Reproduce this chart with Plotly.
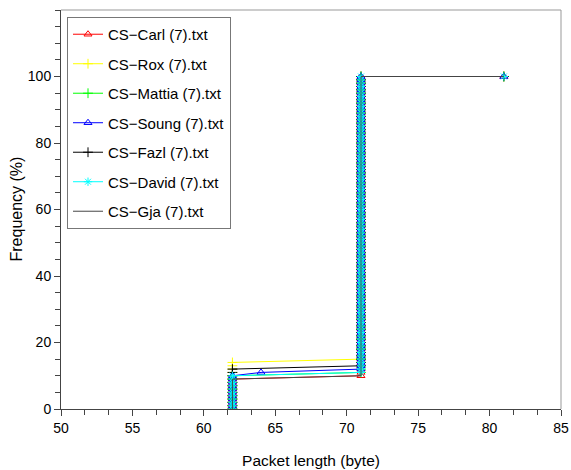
import plotly.graph_objects as go

# ---- data ----
SERIES_NAMES = ["CS\u2212Carl (7).txt", "CS\u2212Rox (7).txt", "CS\u2212Mattia (7).txt",
                "CS\u2212Soung (7).txt", "CS\u2212Fazl (7).txt", "CS\u2212David (7).txt",
                "CS\u2212Gja (7).txt"]

# cumulative frequency levels (%) at which samples are plotted
PCT_LEVELS = [0, 1, 2, 3, 4, 5, 6, 7, 8, 9, 10, 11, 12, 13, 14, 15, 16, 17, 18, 19,
              20, 21, 22, 23, 24, 25, 26, 27, 28, 29, 30, 31, 32, 33, 34, 35, 36, 37, 38, 39,
              40, 41, 42, 43, 44, 45, 46, 47, 48, 49, 50, 51, 52, 53, 54, 55, 56, 57, 58, 59,
              60, 61, 62, 63, 64, 65, 66, 67, 68, 69, 70, 71, 72, 73, 74, 75, 76, 77, 78, 79,
              80, 81, 82, 83, 84, 85, 86, 87, 88, 89, 90, 91, 92, 93, 94, 95, 96, 97, 98, 99, 100]

# (packet length in bytes, lowest %, highest %) for each series
CARL_STEPS = [(62, 0, 9), (71, 10, 100), (81, 100, 100)]
ROX_STEPS = [(62, 0, 14), (71, 15, 100), (81, 100, 100)]
MATTIA_STEPS = [(62, 0, 10), (71, 11, 100), (81, 100, 100)]
SOUNG_STEPS = [(62, 0, 10), (64, 11, 11), (71, 12, 100), (81, 100, 100)]
FAZL_STEPS = [(62, 0, 12), (71, 13, 100), (81, 100, 100)]
DAVID_STEPS = [(62, 0, 10), (71, 11, 100), (81, 100, 100)]
GJA_STEPS = [(62, 0, 9), (71, 10, 100), (81, 100, 100)]

ALL_STEPS = [CARL_STEPS, ROX_STEPS, MATTIA_STEPS, SOUNG_STEPS, FAZL_STEPS, DAVID_STEPS, GJA_STEPS]

X_TICKS = [50, 55, 60, 65, 70, 75, 80, 85]
Y_TICKS = [0, 20, 40, 60, 80, 100]

# ---- styles ----
COLORS = ["#ff0000", "#ffff00", "#00ff00", "#0000ff", "#000000", "#00ffff", "#444444"]
SYMBOLS = ["triangle-up-open", "cross-thin-open", "cross-thin-open", "triangle-up-open",
           "cross-thin-open", "asterisk-open", None]
SIZES = [7, 7, 7, 7, 7, 7, 0]

fig = go.Figure()
for name, steps, color, sym, size in zip(SERIES_NAMES, ALL_STEPS, COLORS, SYMBOLS, SIZES):
    xs, ys = [], []
    for length, lo, hi in steps:
        for v in PCT_LEVELS:
            if lo <= v <= hi:
                xs.append(length)
                ys.append(v)
    if sym is None:
        fig.add_trace(go.Scatter(x=xs, y=ys, mode="lines", name=name, legendgroup=name,
                                 line=dict(color=color, width=1)))
    else:
        fig.add_trace(go.Scatter(x=xs, y=ys, mode="lines+markers", name=name, legendgroup=name,
                                 line=dict(color=color, width=1),
                                 marker=dict(symbol=sym, size=size, color=color,
                                             line=dict(color=color, width=1))))

FONT = "Liberation Sans, Arial, sans-serif"
fig.update_layout(
    width=571, height=470,
    margin=dict(l=61, r=10, t=10, b=61),
    paper_bgcolor="white", plot_bgcolor="white",
    font=dict(family=FONT, size=14, color="black"),
    showlegend=True,
    legend=dict(x=0.012, y=0.9825, xanchor="left", yanchor="top",
                bgcolor="white", bordercolor="#777777", borderwidth=1,
                font=dict(family=FONT, size=15, color="black"),
                tracegroupgap=7, itemwidth=30),
    xaxis=dict(range=[50, 85], tickvals=X_TICKS, ticks="outside", ticklen=6,
               tickcolor="#444444", showline=True, linecolor="#444444", linewidth=1,
               showgrid=False, zeroline=False, automargin=False,
               minor=dict(dtick=5 / 3, tick0=50, ticks="outside", ticklen=5,
                          tickcolor="#444444", showgrid=False),
               title=dict(text="Packet length (byte)", standoff=20,
                          font=dict(family=FONT, size=15.5, color="black"))),
    yaxis=dict(range=[0, 120], tickvals=Y_TICKS, ticks="outside", ticklen=6,
               tickcolor="#444444", showline=True, linecolor="#444444", linewidth=1,
               showgrid=False, zeroline=False, automargin=False,
               minor=dict(dtick=5, tick0=0, ticks="outside", ticklen=5,
                          tickcolor="#444444", showgrid=False)),
    annotations=[
        dict(text="Frequency (%)", xref="paper", yref="paper", x=-0.09, y=0.5,
             xanchor="center", yanchor="middle", textangle=-90, showarrow=False,
             font=dict(family=FONT, size=16, color="black")),
    ],
    shapes=[
        dict(type="line", xref="paper", yref="paper", x0=0, x1=1, y0=1, y1=1,
             line=dict(color="#999999", width=1)),
        dict(type="line", xref="paper", yref="paper", x0=1, x1=1, y0=0, y1=1,
             line=dict(color="#999999", width=1)),
    ],
)

fig.write_html("out.html")
